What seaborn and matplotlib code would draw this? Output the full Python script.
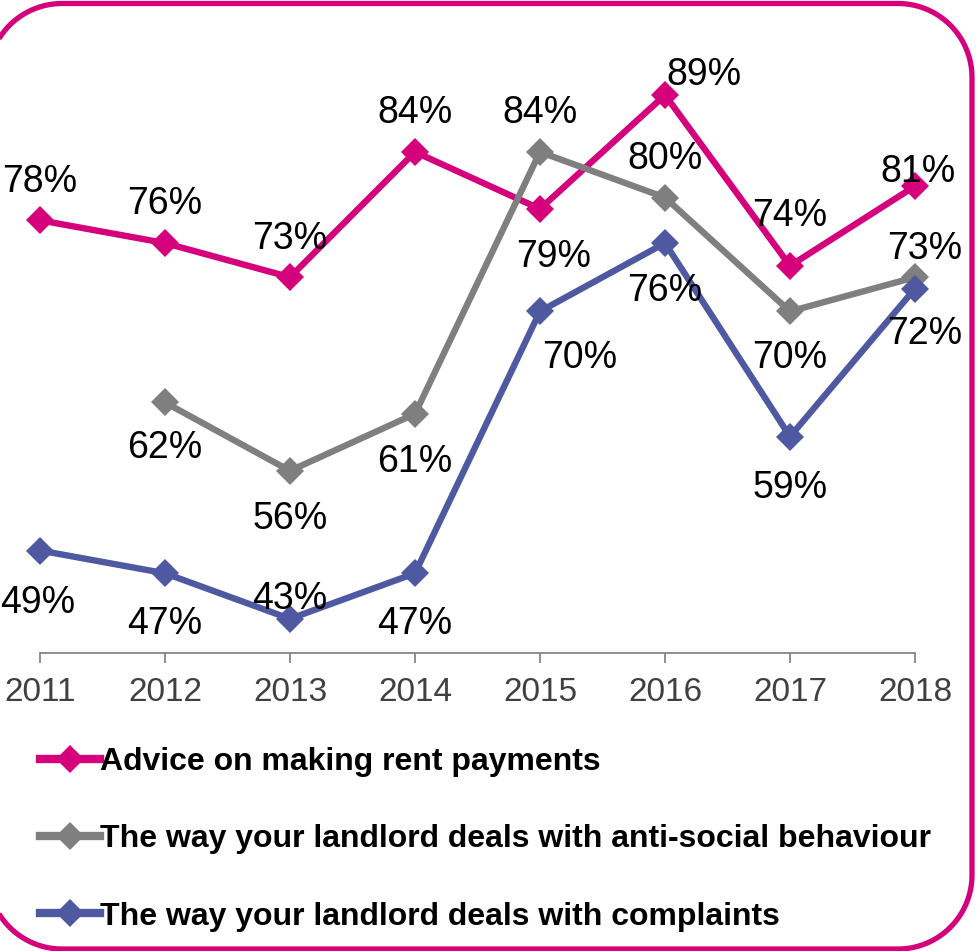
import numpy as np
import pandas as pd
import seaborn as sns
import matplotlib.pyplot as plt
from matplotlib.patches import PathPatch
from matplotlib.path import Path
from matplotlib.transforms import IdentityTransform
from matplotlib.lines import Line2D

# Survey results by year (percent satisfied)
years = [2011, 2012, 2013, 2014, 2015, 2016, 2017, 2018]
rent_advice = [78, 76, 73, 84, 79, 89, 74, 81]
anti_social = [np.nan, 62, 56, 61, 84, 80, 70, 73]
complaints = [49, 47, 43, 47, 70, 76, 59, 72]
series_names = [
    "Advice on making rent payments",
    "The way your landlord deals with anti-social behaviour",
    "The way your landlord deals with complaints",
]
series_values = [rent_advice, anti_social, complaints]
colors = ["#D5007B", "#7F7F7F", "#4F59A2"]

# Data label offsets (pixels, x right / y up) from each point
label_offsets = [
    [(0, 41), (0, 42), (0, 41), (0, 42), (14, -45), (39, 23), (0, 53), (3, 17)],
    [None, (0, -43), (0, -45), (0, -45), (0, 42), (0, 42), (0, -44), (10, 31)],
    [(-2, -49), (0, -48), (0, 23), (0, -48), (40, -44), (0, -45), (0, -48), (10, -42)],
]

df = pd.concat(
    [pd.DataFrame({"year": years, "value": vals, "series": name})
     for name, vals in zip(series_names, series_values)],
    ignore_index=True,
).dropna()

plt.rcParams["font.family"] = ["Liberation Sans", "DejaVu Sans"]

W, H = 978, 951
DPI = 100
fig = plt.figure(figsize=(W / DPI, H / DPI), dpi=DPI)

y_lo, y_hi = 40, 95
ax_bottom = (H - 653) / H
ax_top = (H - 26.7) / H
ax = fig.add_axes([40 / W, ax_bottom, 875 / W, ax_top - ax_bottom])

sns.lineplot(
    data=df, x="year", y="value", hue="series", hue_order=series_names,
    palette=dict(zip(series_names, colors)), style="series",
    style_order=series_names, markers={n: "D" for n in series_names},
    dashes=False, markersize=14, markeredgewidth=0, linewidth=4.6,
    legend=False, ax=ax,
)
for ln in ax.lines:
    ln.set_clip_on(False)
    ln.set_solid_joinstyle("miter")

ax.set_xlim(years[0], years[-1])
ax.set_ylim(y_lo, y_hi)
ax.set_xticks(years)
ax.set_xticklabels([str(y) for y in years])
ax.set_yticks([])
ax.set_xlabel("")
ax.set_ylabel("")
for s in ["left", "right", "top"]:
    ax.spines[s].set_visible(False)
ax.spines["bottom"].set_color("#868686")
ax.spines["bottom"].set_linewidth(1.3)
ax.tick_params(axis="x", direction="out", length=7, width=1.3, color="#868686",
               labelsize=24, labelcolor="#404040", pad=10.5)
ax.set_facecolor("none")

# Percentage labels
for vals, offs in zip(series_values, label_offsets):
    for x, v, off in zip(years, vals, offs):
        if off is None or np.isnan(v):
            continue
        ax.annotate(f"{v:.0f}%", (x, v), xytext=(off[0], off[1] - 13),
                    textcoords="offset pixels", ha="center", va="baseline",
                    fontsize=27, color="#000000", annotation_clip=False)

# Legend
handles = [Line2D([], [], color=c, lw=6, marker="D", ms=14, mew=0) for c in colors]
fig.legend(handles, series_names, loc="upper left",
           bbox_to_anchor=(40 / W, (H - 747) / H), frameon=False,
           prop={"weight": "bold", "size": 23}, handlelength=1.88,
           handletextpad=0.0, labelspacing=1.48, borderpad=0, borderaxespad=0)


# Rounded frame around the chart, drawn in pixel coordinates (origin bottom-left)
def rounded_rect(x0, y0, x1, y1, r, n=40):
    pts = []
    corners = [(x1 - r, y1 - r, 0), (x0 + r, y1 - r, 90),
               (x0 + r, y0 + r, 180), (x1 - r, y0 + r, 270)]
    for cx, cy, a0 in corners:
        t = np.radians(np.linspace(a0, a0 + 90, n))
        pts.extend(zip(cx + r * np.cos(t), cy + r * np.sin(t)))
    pts.append(pts[0])
    return Path(np.array(pts), closed=True)


frame = PathPatch(rounded_rect(-12, 2, 972, H - 3.5, 74),
                  transform=IdentityTransform(), fill=False,
                  edgecolor="#D5007B", linewidth=3.8, clip_on=False)
fig.add_artist(frame)

fig.savefig("out.png", dpi=DPI)
